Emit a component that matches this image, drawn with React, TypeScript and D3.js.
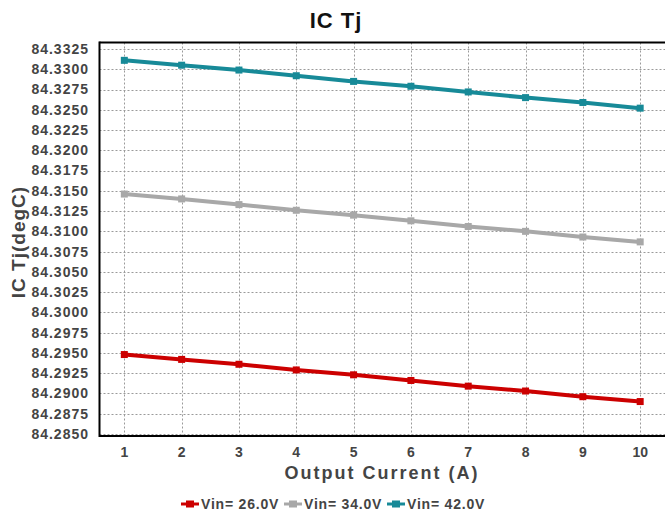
import React from "react";
import * as d3 from "d3";

const currents = [1, 2, 3, 4, 5, 6, 7, 8, 9, 10];
const vin26 = [84.2948, 84.2942, 84.2936, 84.2929, 84.2923, 84.2916, 84.2909, 84.2903, 84.2896, 84.289];
const vin34 = [84.3146, 84.314, 84.3133, 84.3126, 84.312, 84.3113, 84.3106, 84.31, 84.3093, 84.3087];
const vin42 = [84.3311, 84.3305, 84.3299, 84.3292, 84.3285, 84.3279, 84.3272, 84.3265, 84.3259, 84.3252];
const yTicks = [
  84.285, 84.2875, 84.29, 84.2925, 84.295, 84.2975, 84.3, 84.3025, 84.305, 84.3075,
  84.31, 84.3125, 84.315, 84.3175, 84.32, 84.3225, 84.325, 84.3275, 84.33, 84.3325,
];
const seriesNames = ["Vin= 26.0V", "Vin= 34.0V", "Vin= 42.0V"];
const seriesColors = ["#cc0000", "#a8a8a8", "#178a98"];

const W = 665;
const H = 513;
const left = 99.5;
const right = 665;
const top = 42.5;
const bottom = 436;

const font = "'Liberation Sans', Arial, sans-serif";

export default function App() {
  const x = d3.scaleLinear().domain([0.567, 10.433]).range([left, right]);
  const y = d3.scaleLinear().domain([84.28475, 84.3333]).range([bottom, top]);
  const line = d3
    .line<number>()
    .x((_, i) => x(currents[i]))
    .y((d) => y(d));
  const series = [vin26, vin34, vin42];

  return (
    <svg
      width={W}
      height={H}
      style={{ position: "absolute", left: 0, top: 0, background: "#fff" }}
      fontFamily={font}
    >
      {/* grid */}
      {yTicks.map((t) => (
        <line
          key={"gy" + t}
          x1={left}
          x2={right}
          y1={Math.round(y(t)) + 0.5}
          y2={Math.round(y(t)) + 0.5}
          stroke="#9a9a9a"
          strokeDasharray="2,2"
        />
      ))}
      {currents.map((c) => (
        <line
          key={"gx" + c}
          x1={Math.round(x(c)) + 0.5}
          x2={Math.round(x(c)) + 0.5}
          y1={top}
          y2={bottom}
          stroke="#9a9a9a"
          strokeDasharray="2,2"
        />
      ))}
      {/* frame */}
      <line x1={left} x2={right} y1={top} y2={top} stroke="#000" strokeWidth={2} />
      <line x1={left} x2={right} y1={bottom} y2={bottom} stroke="#000" strokeWidth={2} />
      <line x1={left} x2={left} y1={top - 1} y2={bottom + 1} stroke="#000" strokeWidth={2} />

      {/* y tick labels */}
      {yTicks.map((t) => (
        <text
          key={"ty" + t}
          x={89}
          y={y(t)}
          dy="0.35em"
          textAnchor="end"
          fontSize={14}
          fontWeight="bold"
          fill="#444"
          letterSpacing={1}
        >
          {t.toFixed(4)}
        </text>
      ))}
      {/* x tick labels */}
      {currents.map((c) => (
        <text
          key={"tx" + c}
          x={x(c)}
          y={457}
          textAnchor="middle"
          fontSize={14}
          fontWeight="bold"
          fill="#444"
        >
          {c}
        </text>
      ))}

      {/* series */}
      {series.map((s, i) => (
        <g key={"s" + i}>
          <path d={line(s) || ""} fill="none" stroke={seriesColors[i]} strokeWidth={4} />
          {s.map((v, j) => (
            <rect
              key={j}
              x={x(currents[j]) - 3.5}
              y={y(v) - 3.5}
              width={7}
              height={7}
              fill={seriesColors[i]}
            />
          ))}
        </g>
      ))}

      {/* titles */}
      <text x={336} y={28} textAnchor="middle" fontSize={22} fontWeight="bold" fill="#111" letterSpacing={1}>
        IC Tj
      </text>
      <text
        transform={`translate(25, ${242}) rotate(-90)`}
        textAnchor="middle"
        fontSize={19}
        fontWeight="bold"
        fill="#444"
        letterSpacing={1}
      >
        IC Tj(degC)
      </text>
      <text
        x={382}
        y={479}
        textAnchor="middle"
        fontSize={18}
        fontWeight="bold"
        fill="#444"
        letterSpacing={2}
      >
        Output Current (A)
      </text>

      {/* legend */}
      {seriesNames.map((n, i) => {
        const lx = 181 + i * 103;
        return (
          <g key={"l" + i}>
            <line x1={lx} x2={lx + 18} y1={504} y2={504} stroke={seriesColors[i]} strokeWidth={3} />
            <rect x={lx + 5} y={500.5} width={8} height={7} fill={seriesColors[i]} />
            <text x={lx + 20} y={509} fontSize={14} fontWeight="bold" fill="#444" letterSpacing={0.8}>
              {n}
            </text>
          </g>
        );
      })}
    </svg>
  );
}
